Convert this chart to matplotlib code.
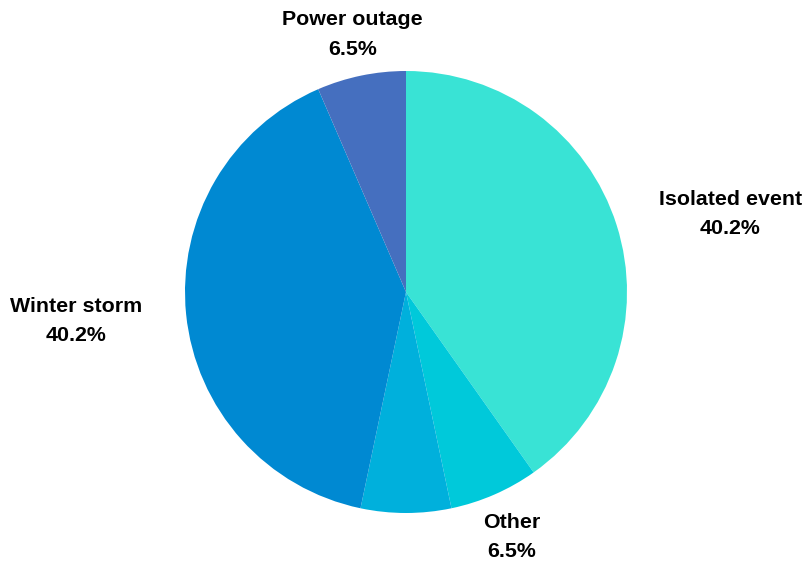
import numpy as np
import matplotlib
matplotlib.use("Agg")
import matplotlib.pyplot as plt

categories = ["Isolated event", "Other", "", "Winter storm", "Power outage"]
values = [40.2, 6.5, 6.6, 40.2, 6.5]
colors = ["#39E3D5", "#00C9DA", "#00B0DC", "#0089D2", "#456FBF"]

plt.rcParams['font.family'] = ['Liberation Sans', 'DejaVu Sans']

fig = plt.figure(figsize=(8.04, 5.63), dpi=100)
cx, cy, R = 406, 292, 221
W, H = 804, 563
ax = fig.add_axes([(cx - R) / W, (H - cy - R) / H, 2 * R / W, 2 * R / H])
wedges, _ = ax.pie(values, colors=colors, startangle=90, counterclock=False,
                   radius=1.0, wedgeprops=dict(linewidth=0))
ax.set_xlim(-1, 1)
ax.set_ylim(-1, 1)
ax.set_aspect('equal')
ax.axis('off')

total = sum(values)
for w, name, v in zip(wedges, categories, values):
    if not name:
        continue
    theta = np.deg2rad((w.theta1 + w.theta2) / 2)
    d = 1.2
    x, y = d * np.cos(theta), d * np.sin(theta)
    if abs(np.cos(theta)) < 0.5:
        ha = 'center'
    elif x > 0:
        ha = 'left'
    else:
        ha = 'right'
    ax.text(x, y - 0.01, f"{name}\n{v / total * 100:.1f}%", ha=ha, va='center',
            multialignment='center', fontsize=15.4, fontweight='bold',
            color='#000000', linespacing=1.68, clip_on=False)

fig.savefig("out.png", dpi=100)
